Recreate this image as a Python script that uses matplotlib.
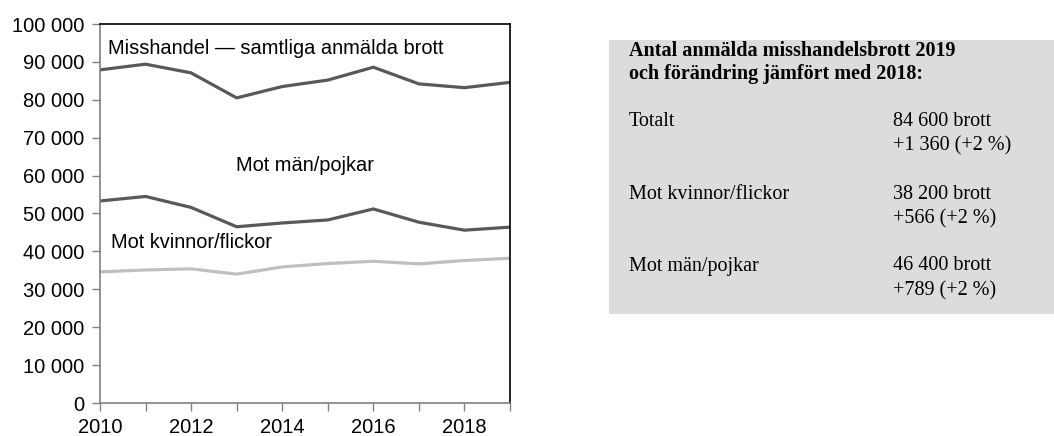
import matplotlib
matplotlib.use("Agg")
import matplotlib.pyplot as plt
from matplotlib.patches import Rectangle
from matplotlib.ticker import FuncFormatter

years = [2010, 2011, 2012, 2013, 2014, 2015, 2016, 2017, 2018, 2019]
total = [87900, 89400, 87100, 80500, 83500, 85200, 88600, 84200, 83200, 84600]
men = [53300, 54500, 51600, 46500, 47500, 48300, 51200, 47700, 45600, 46400]
women = [34600, 35100, 35400, 34000, 35900, 36800, 37400, 36700, 37600, 38200]

box_title = "Antal anmälda misshandelsbrott 2019\noch förändring jämfört med 2018:"
box_rows = ["Totalt", "Mot kvinnor/flickor", "Mot män/pojkar"]
box_counts = ["84 600 brott", "38 200 brott", "46 400 brott"]
box_changes = ["+1 360 (+2 %)", "+566 (+2 %)", "+789 (+2 %)"]

plt.rcParams['font.family'] = ['Liberation Sans', 'DejaVu Sans']

fig = plt.figure(figsize=(10.54, 4.36), dpi=100)
ax = fig.add_axes([100 / 1054, 33 / 436, 410 / 1054, 379 / 436])

dark = '#595959'
light = '#bfbfbf'
ax.plot(years, total, color=dark, lw=2.3, solid_joinstyle='miter')
ax.plot(years, men, color=dark, lw=2.3, solid_joinstyle='miter')
ax.plot(years, women, color=light, lw=2.3, solid_joinstyle='miter')

ax.set_xlim(2010, 2019)
ax.set_ylim(0, 100000)
ax.set_yticks(range(0, 100001, 10000))
ax.set_xticks(years)
ax.set_xticklabels([str(y) if y % 2 == 0 else '' for y in years])
ax.yaxis.set_major_formatter(FuncFormatter(lambda v, p: f"{int(v):,}".replace(',', ' ')))
ax.tick_params(axis='both', direction='out', length=6, width=1, color='#808080',
               labelsize=14.5)
ax.tick_params(axis='y', pad=5)
ax.tick_params(axis='x', pad=5)

for s in ['left', 'bottom']:
    ax.spines[s].set_color('#808080')
    ax.spines[s].set_linewidth(1.2)
for s in ['top', 'right']:
    ax.spines[s].set_color('black')
    ax.spines[s].set_linewidth(1.2)

ax.text(2010.18, 93500, "Misshandel — samtliga anmälda brott", fontsize=14.4, va='center')
ax.text(2014.5, 62700, "Mot män/pojkar", fontsize=14.4, va='center', ha='center')
ax.text(2010.24, 42400, "Mot kvinnor/flickor", fontsize=14.4, va='center')

# info box
fig.patches.append(Rectangle((609 / 1054, 1 - 314 / 436), 445 / 1054, 274 / 436,
                             transform=fig.transFigure, facecolor='#dcdcdc',
                             edgecolor='none', zorder=0))
serif = ['Liberation Serif', 'DejaVu Serif']
fig.text(629 / 1054, 1 - 63 / 436, box_title, family=serif, fontsize=14.5,
         fontweight='bold', va='center', linespacing=1.2)
row_y = [121, 194, 266]
for label, count, change, yy in zip(box_rows, box_counts, box_changes, row_y):
    fig.text(629 / 1054, 1 - yy / 436, label, family=serif, fontsize=14.5, va='center')
    fig.text(893 / 1054, 1 - yy / 436, count, family=serif, fontsize=14.5, va='center')
    fig.text(893 / 1054, 1 - (yy + 25) / 436, change, family=serif, fontsize=14.5, va='center')

fig.savefig("out.png", dpi=100)
